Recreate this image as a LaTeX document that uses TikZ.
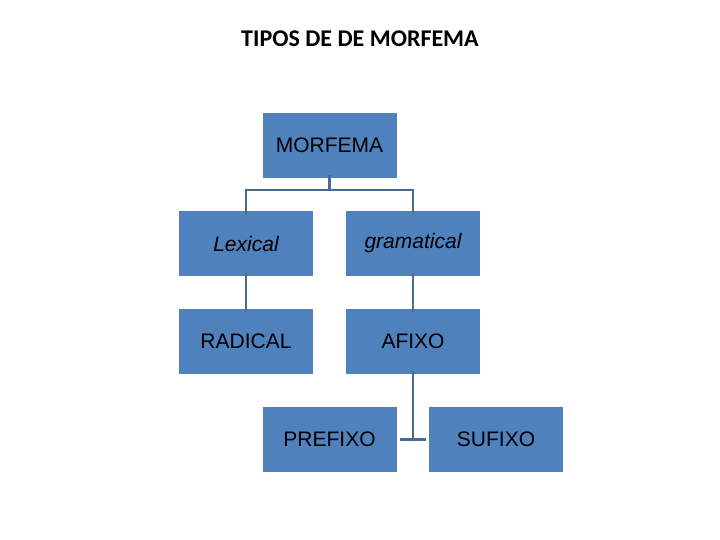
\documentclass[tikz,border=0pt]{standalone}
\usepackage{fontspec}
\setmainfont{Liberation Sans}
\newfontfamily\titlefont{Carlito}
\begin{document}
\begin{tikzpicture}[x=1pt,y=-1pt,
  box/.style={fill={rgb,255:red,79;green,129;blue,189}, minimum width=134pt, minimum height=65pt, inner sep=0pt, font=\fontsize{21}{24}\selectfont, text=black},
  conn/.style={draw={rgb,255:red,74;green,105;blue,148}, line width=2.5pt}]
\useasboundingbox (0,0) rectangle (720,540);
\node[font=\titlefont\bfseries\fontsize{24}{28}\selectfont] (title) at (360,39) {TIPOS DE DE MORFEMA};
\node[box] (m) at (329.5,145.5) {MORFEMA};
\node[box] (lex) at (246,243.5) {\itshape Lexical};
\node[box] (gra) at (413,243.5) {\itshape gramatical};
\node[box] (rad) at (246,341.5) {RADICAL};
\node[box] (afi) at (413,341.5) {AFIXO};
\node[box] (pre) at (329.5,439.5) {PREFIXO};
\node[box] (suf) at (496,439.5) {SUFIXO};
\coordinate (j) at (413,440);
\draw[conn] ([yshift=3pt]m.south) -- ++(0,15) -| ([yshift=-3pt]lex.north);
\draw[conn] ([yshift=3pt]m.south) ++(0,15) -| ([yshift=-3pt]gra.north);
\draw[conn] ([yshift=3pt]lex.south) -- ([yshift=-3pt]rad.north);
\draw[conn] ([yshift=3pt]gra.south) -- ([yshift=-3pt]afi.north);
\draw[conn] ([yshift=3pt]afi.south) -- (j);
\draw[conn] ([xshift=3pt]pre.east) -- ([xshift=-3pt]suf.west);
\end{tikzpicture}
\end{document}
